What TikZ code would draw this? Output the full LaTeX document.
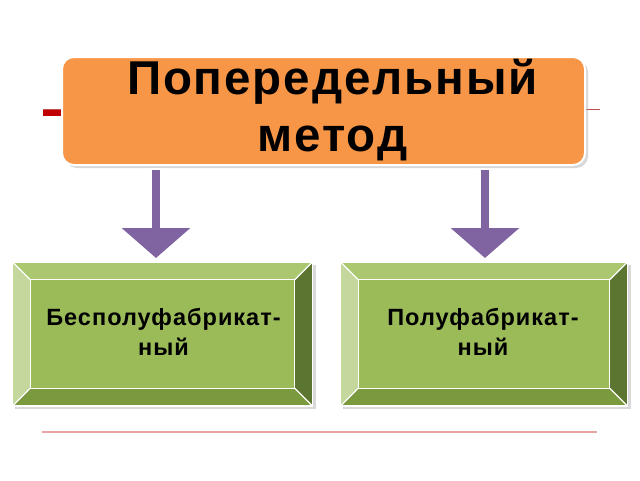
\documentclass[tikz,border=0pt]{standalone}
\usepackage{fontspec}
\setmainfont{Liberation Sans}
\newfontfamily\hdrfont{Liberation Sans}[LetterSpace=4.0]
\newfontfamily\boxfont{Liberation Sans}[LetterSpace=4.3]
\usetikzlibrary{calc,arrows.meta}
\definecolor{orangeF}{HTML}{F79646}
\definecolor{purpA}{HTML}{8064A2}
\definecolor{greenF}{HTML}{9BBB59}
\definecolor{bevT}{HTML}{ABC870}
\definecolor{bevL}{HTML}{C4D89E}
\definecolor{bevB}{HTML}{7B9A3E}
\definecolor{bevR}{HTML}{5C7631}
\definecolor{redD}{HTML}{C00000}
\definecolor{redL}{HTML}{C0504D}
\definecolor{redP}{HTML}{E8A3A3}
\tikzset{
  topbox/.style={rectangle, rounded corners=12pt, fill=orangeF, draw=white, line width=2pt,
    minimum width=523pt, minimum height=108pt, inner sep=0pt},
  toptext/.style={inner sep=0pt, align=center, font=\hdrfont\bfseries\fontsize{47.5}{57}\selectfont},
  greenbox/.style={rectangle, minimum width=300pt, minimum height=144pt, inner sep=0pt},
  greentext/.style={inner sep=0pt, align=center, font=\boxfont\bfseries\fontsize{23.5}{30}\selectfont},
  arrwhite/.style={white, line width=12pt, -{Triangle[width=73pt,length=34pt]}, shorten >=-2pt},
  arrpurp/.style={purpA, line width=8pt, -{Triangle[width=67pt,length=30pt]}},
}
\newcommand{\bevelbox}[2]{%
  \fill[black!25, opacity=0.6] ($(#1.north west)+(3,3)$) rectangle ($(#1.south east)+(3,3)$);
  \fill[greenF] (#1.north west) rectangle (#1.south east);
  \fill[bevT] (#1.north west) -- (#1.north east) -- ($(#1.north east)+(-#2,#2)$) -- ($(#1.north west)+(#2,#2)$) -- cycle;
  \fill[bevL] (#1.north west) -- (#1.south west) -- ($(#1.south west)+(#2,-#2)$) -- ($(#1.north west)+(#2,#2)$) -- cycle;
  \fill[bevB] (#1.south west) -- (#1.south east) -- ($(#1.south east)+(-#2,-#2)$) -- ($(#1.south west)+(#2,-#2)$) -- cycle;
  \fill[bevR] (#1.north east) -- (#1.south east) -- ($(#1.south east)+(-#2,-#2)$) -- ($(#1.north east)+(-#2,#2)$) -- cycle;
  \draw[white, line width=1.2pt] ($(#1.north west)+(#2,#2)$) rectangle ($(#1.south east)+(-#2,-#2)$);
  \draw[white, line width=1.2pt] (#1.north west) -- ($(#1.north west)+(#2,#2)$)
     (#1.north east) -- ($(#1.north east)+(-#2,#2)$)
     (#1.south west) -- ($(#1.south west)+(#2,-#2)$)
     (#1.south east) -- ($(#1.south east)+(-#2,-#2)$);
  \draw[white, line width=1.5pt] (#1.north west) rectangle (#1.south east);
}
\begin{document}
\begin{tikzpicture}[x=1pt, y=-1pt]
\useasboundingbox (0,0) rectangle (640,480);
% lines
\draw[redL, line width=0.8pt] (43,109) -- (600,109);
\draw[redD, line width=6pt] (43,112.5) -- (61,112.5);
\draw[redP, line width=1.6pt] (42,432) -- (597,432);
% top box with shadow
\fill[black!30, opacity=0.5, rounded corners=12pt] (65,60) rectangle (588,168);
\node[topbox] (top) at (323.5,111) {};
\node[toptext] (topt) at (332.5,110) {Попередельный\\метод};
% green boxes
\node[greenbox] (L) at (162.5,334) {};
\node[greenbox, minimum width=287pt] (R) at (484,334) {};
\bevelbox{L}{18}
\bevelbox{R}{18}
\node[greentext] (Lt) at (163.5,331.5) {Бесполуфабрикат-\\ный};
\node[greentext] (Rt) at (483,331.5) {Полуфабрикат-\\ный};
% arrows
\coordinate (a1) at (156,170);
\coordinate (a2) at (156,258);
\coordinate (b1) at (485,170);
\coordinate (b2) at (485,258);
\draw[arrwhite] ($(a1)+(0,-2)$) -- (a2);
\draw[arrpurp] (a1) -- (a2);
\draw[arrwhite] ($(b1)+(0,-2)$) -- (b2);
\draw[arrpurp] (b1) -- (b2);
\end{tikzpicture}
\end{document}
